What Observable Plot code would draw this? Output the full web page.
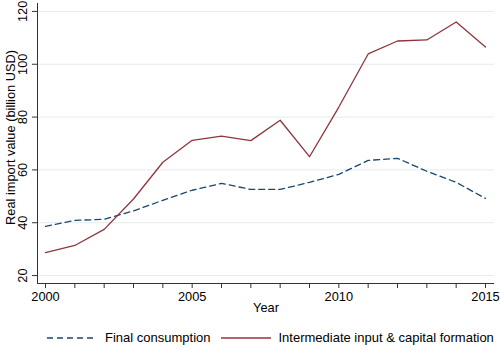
<!DOCTYPE html>
<html><head><meta charset="utf-8">
<script src="https://cdn.jsdelivr.net/npm/d3@7"></script>
<script src="https://cdn.jsdelivr.net/npm/@observablehq/plot@0.6"></script>
<style>
body{margin:0;background:#fff;font-family:"Liberation Sans",Arial,Helvetica,sans-serif;}
#legend{display:flex;justify-content:flex-start;align-items:center;font-size:13px;color:#000;height:25px;width:500px;padding-left:47px;box-sizing:border-box;white-space:nowrap;overflow:visible;}
#legend span{margin-right:10px;flex-shrink:0;white-space:nowrap}
#legend svg{margin-right:8px;flex-shrink:0}
</style>
</head><body>
<div id="chart"></div>
<div id="legend"></div>
<script>
const years = [2000,2001,2002,2003,2004,2005,2006,2007,2008,2009,2010,2011,2012,2013,2014,2015];
const finalConsumption = [38.6,40.9,41.3,44.5,48.5,52.3,54.9,52.6,52.6,55.3,58.3,63.6,64.4,59.5,55.3,49.2];
const intermediateCapital = [28.7,31.4,37.5,49.0,62.9,71.2,72.8,71.1,78.8,65.0,83.8,103.9,108.8,109.2,116.0,106.5];
const seriesNames = ["Final consumption","Intermediate input & capital formation"];
const yTicks = [20,40,60,80,100,120];
const xLabelTicks = [2000,2005,2010,2015];

const colors = ["#1a476f","#90353b"];
const xDomain = [1999.727, 2015.307];
const yDomain = [17, 123];

const rows = [];
years.forEach((y,i)=>{
  rows.push({year:y, value:finalConsumption[i], series:seriesNames[0]});
  rows.push({year:y, value:intermediateCapital[i], series:seriesNames[1]});
});

const chart = Plot.plot({
  width: 500, height: 325,
  marginLeft: 37, marginRight: 6, marginTop: 3, marginBottom: 42,
  style: {fontFamily: '"Liberation Sans",Arial,Helvetica,sans-serif', fontSize: "12.8px", color:"#000", background:"#fff"},
  x: {domain: xDomain},
  y: {domain: yDomain},
  marks: [
    Plot.gridY(yTicks, {stroke:"#e3ecef", strokeOpacity:1, strokeWidth:1}),
    Plot.line(rows.filter(d=>d.series===seriesNames[0]), {x:"year", y:"value", stroke:colors[0], strokeWidth:1.3, strokeDasharray:"6,4"}),
    Plot.line(rows.filter(d=>d.series===seriesNames[1]), {x:"year", y:"value", stroke:colors[1], strokeWidth:1.3}),
    Plot.ruleX([xDomain[0]], {stroke:"#333", strokeWidth:1}),
    Plot.ruleY([yDomain[0]], {stroke:"#333", strokeWidth:1}),
    Plot.axisY(yTicks, {tickSize:5, tickFormat: () => "", label:null, stroke:"#333"}),
    Plot.text(yTicks, {x: xDomain[0], y: d => d, text: d => String(d), rotate:-90, dx:-15, textAnchor:"middle", fontSize:12.8}),
    Plot.axisX(years, {tickSize:5, tickFormat: d => xLabelTicks.includes(d) ? String(d) : "", tickPadding:3, label:null, stroke:"#333"}),
    Plot.text(["Year"], {frameAnchor:"bottom", dy:28, text:d=>d, fontSize:12.8}),
    Plot.text(["Real import value (billion USD)"], {frameAnchor:"left", dx:-27, dy:-6, rotate:-90, textAnchor:"middle", text:d=>d, fontSize:12.8})
  ]
});
document.getElementById("chart").appendChild(chart);

const legend = document.getElementById("legend");
const dashes = ["6,4", null];
seriesNames.forEach((name,i)=>{
  const s = document.createElementNS("http://www.w3.org/2000/svg","svg");
  s.setAttribute("width","50"); s.setAttribute("height","6");
  const l = document.createElementNS("http://www.w3.org/2000/svg","line");
  l.setAttribute("x1","0"); l.setAttribute("x2","50"); l.setAttribute("y1","3"); l.setAttribute("y2","3");
  l.setAttribute("stroke", colors[i]); l.setAttribute("stroke-width","1.3");
  if (dashes[i]) l.setAttribute("stroke-dasharray", dashes[i]);
  s.appendChild(l);
  legend.appendChild(s);
  const t = document.createElement("span"); t.textContent = name;
  legend.appendChild(t);
});
</script>
</body></html>
